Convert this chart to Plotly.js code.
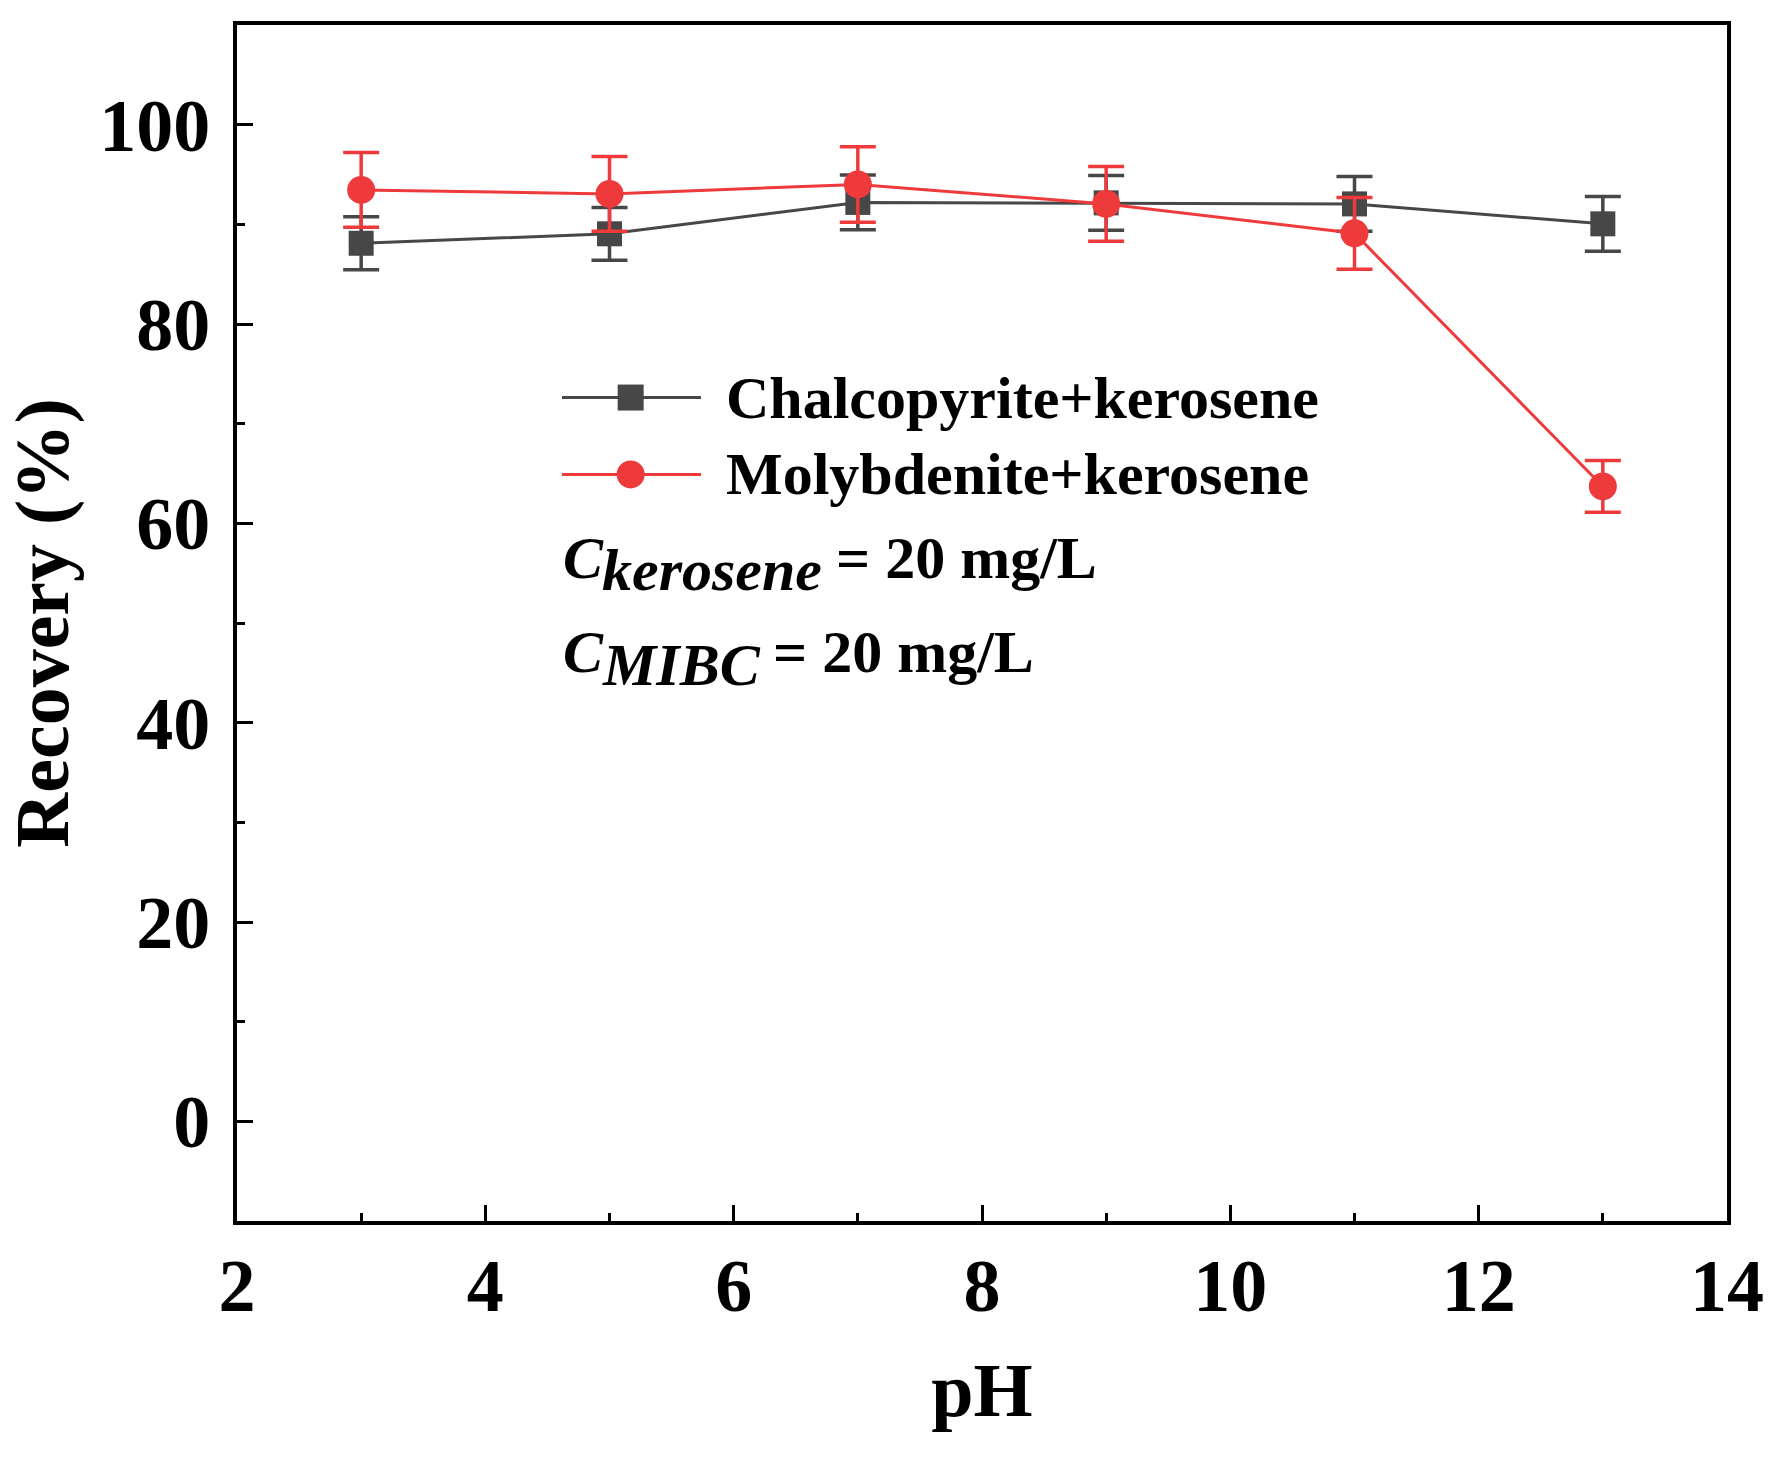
<!DOCTYPE html>
<html><head><meta charset="utf-8">
<script src="https://cdn.plot.ly/plotly-3.0.1.min.js"></script>
<style>html,body{margin:0;padding:0;background:#fff;} #chart{width:1779px;height:1457px;}</style>
</head><body><div id="chart"></div>
<script>
const pH = [3, 5, 7, 9, 11, 13];
const chalcopyrite = [88.1, 89.05, 92.2, 92.15, 92.05, 90.05];
const chalcopyriteErr = [2.65, 2.65, 2.75, 2.75, 2.75, 2.75];
const molybdenite = [93.45, 93.05, 94.0, 92.05, 89.1, 63.7];
const molybdeniteErr = [3.75, 3.75, 3.78, 3.75, 3.6, 2.6];
const seriesNames = ['Chalcopyrite+kerosene', 'Molybdenite+kerosene'];
const conditionLabels = ['kerosene', 'MIBC'];
const conditionValue = '= 20 mg/L';

const BLACK = '#474747';
const RED = '#EF3A3C';
const FONT = 'Liberation Serif, Times New Roman, serif';

const traces = [
  {
    x: pH, y: chalcopyrite, name: seriesNames[0], type: 'scatter', mode: 'lines+markers',
    line: {color: BLACK, width: 3},
    marker: {symbol: 'square', size: 25, color: BLACK},
    error_y: {type: 'data', array: chalcopyriteErr, visible: true, color: BLACK, thickness: 3.5, width: 18}
  },
  {
    x: pH, y: molybdenite, name: seriesNames[1], type: 'scatter', mode: 'lines+markers',
    line: {color: RED, width: 3},
    marker: {symbol: 'circle', size: 28, color: RED},
    error_y: {type: 'data', array: molybdeniteErr, visible: true, color: RED, thickness: 3.5, width: 18}
  }
];

const axisCommon = {
  showgrid: false, zeroline: false, showline: true, linewidth: 4, linecolor: '#000', mirror: true,
  ticks: 'inside', ticklen: 16, tickwidth: 3, tickcolor: '#000',
  tickfont: {family: FONT, size: 74, color: '#000', weight: 'bold'},
  minor: {ticks: 'inside', ticklen: 8, tickwidth: 3, tickcolor: '#000'}
};

// custom legend (larger symbols than Plotly's legend allows)
const legendRows = [0.6885, 0.6242];
const legLineX = [0.2181, 0.3114];
const legMarkX = 0.2642;
const legTextX = 0.3268;
const legendColors = [BLACK, RED];
const legendShapes = [];
legendRows.forEach((yy, i) => {
  legendShapes.push({type: 'line', xref: 'paper', yref: 'paper', x0: legLineX[0], x1: legLineX[1], y0: yy, y1: yy,
    line: {color: legendColors[i], width: 3}});
  const r = i === 0 ? 13 : 14;
  legendShapes.push({type: i === 0 ? 'rect' : 'circle', xref: 'paper', yref: 'paper',
    xsizemode: 'pixel', ysizemode: 'pixel', xanchor: legMarkX, yanchor: yy,
    x0: -r, x1: r, y0: -r, y1: r, fillcolor: legendColors[i], line: {width: 0}});
});
const legendTexts = legendRows.map((yy, i) => ({
  xref: 'paper', yref: 'paper', x: legTextX, y: yy, xanchor: 'left', yanchor: 'middle', showarrow: false,
  font: {family: FONT, size: 60, weight: 'bold', color: '#000'}, text: seriesNames[i]
}));

// condition notes: C (italic) + lowered italic subscript + value
const condY = [0.5545, 0.4756];
const subDrop = 0.0105;
const condValueX = [0.4007, 0.3584];
const condTexts = [];
conditionLabels.forEach((lab, i) => {
  const base = {xref: 'paper', yref: 'paper', xanchor: 'left', yanchor: 'middle', showarrow: false,
    font: {family: FONT, size: 60, weight: 'bold', color: '#000'}};
  condTexts.push(Object.assign({}, base, {x: 0.2175, y: condY[i], text: '<i>C</i>'}));
  condTexts.push(Object.assign({}, base, {x: 0.2436, y: condY[i] - subDrop, text: '<i>' + lab + '</i>'}));
  condTexts.push(Object.assign({}, base, {x: condValueX[i], y: condY[i], text: conditionValue}));
});

const layout = {
  width: 1779, height: 1457,
  margin: {l: 237, r: 52, t: 25, b: 236},
  paper_bgcolor: '#fff', plot_bgcolor: '#fff',
  font: {family: FONT, color: '#000'},
  xaxis: Object.assign({}, axisCommon, {
    range: [2, 14], tick0: 2, dtick: 2, minor: Object.assign({}, axisCommon.minor, {dtick: 1}),
    ticklabelstandoff: -3,
    title: {text: 'pH', font: {family: FONT, size: 76, weight: 'bold', color: '#000'}, standoff: 38}
  }),
  yaxis: Object.assign({}, axisCommon, {
    range: [-10, 110], tick0: 0, dtick: 20, minor: Object.assign({}, axisCommon.minor, {dtick: 10}),
    ticklabelstandoff: 8,
    title: {text: 'Recovery (%)', font: {family: FONT, size: 76, weight: 'bold', color: '#000'}, standoff: 20}
  }),
  showlegend: false,
  shapes: legendShapes,
  annotations: legendTexts.concat(condTexts)
};

Plotly.newPlot('chart', traces, layout, {displayModeBar: false, staticPlot: true});
</script>
</body></html>
